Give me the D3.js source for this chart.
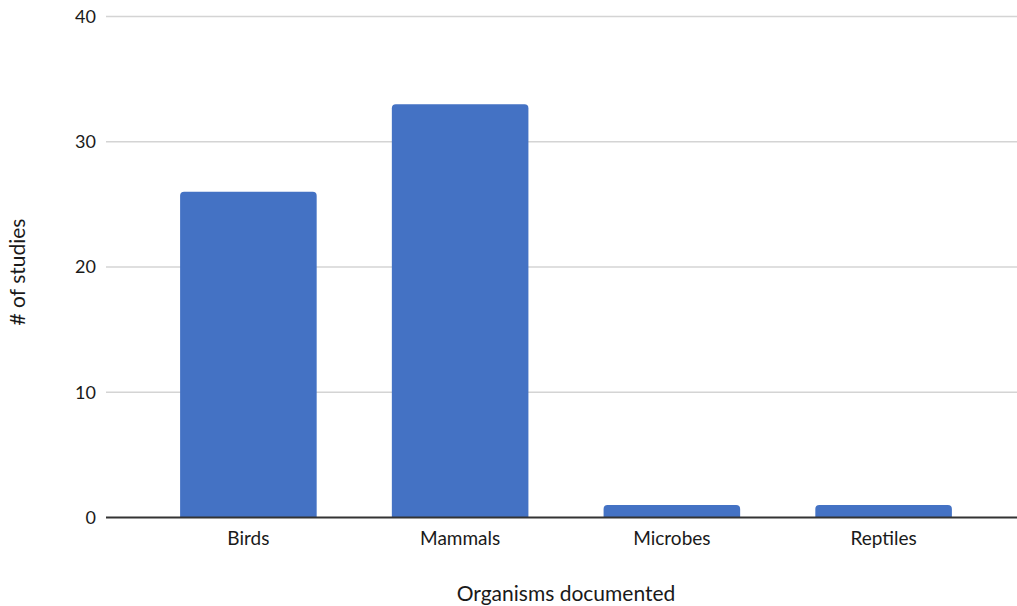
<!DOCTYPE html>
<html>
<head>
<meta charset="utf-8">
<script src="https://cdn.jsdelivr.net/npm/d3@7"></script>
<style>
  html, body { margin: 0; padding: 0; background: #fff; }
  svg { display: block; font-family: Lato, "Open Sans", sans-serif; }
</style>
</head>
<body>
<svg id="chart" width="1017" height="606"></svg>
<script>
const categories = ["Birds", "Mammals", "Microbes", "Reptiles"];
const studies = [26, 33, 1, 1];
const yTicks = [0, 10, 20, 30, 40];
const xTitle = "Organisms documented";
const yTitle = "# of studies";

(function () {
const svg = d3.select("#chart");
const W = 1017, H = 606;
const plotLeft = 106, plotTop = 16.5, plotBottom = 517.5;

const x = d3.scaleBand().domain(categories).range([plotLeft, 1026]).paddingInner(0.355).paddingOuter(0.35);
const y = d3.scaleLinear().domain([0, 40]).range([plotBottom, plotTop]);

// gridlines
svg.append("g").selectAll("line").data(yTicks.filter(d => d !== 0)).join("line")
  .attr("x1", plotLeft).attr("x2", W)
  .attr("y1", d => y(d)).attr("y2", d => y(d))
  .attr("stroke", "#d4d4d4").attr("stroke-width", 1.5);

// y tick labels
const yAxis = d3.axisLeft(y).tickValues(yTicks).tickSize(0).tickPadding(10);
const gy = svg.append("g").attr("transform", `translate(${plotLeft},0)`).call(yAxis);
gy.select(".domain").remove();
gy.selectAll("text").attr("font-size", 18).attr("fill", "#1a1a1a").attr("font-family", "Lato, sans-serif");

// bars with rounded tops
const r = 4;
svg.append("g").selectAll("path").data(categories).join("path")
  .attr("fill", "#4472C4")
  .attr("d", (c, i) => {
    const x0 = x(c), w = x.bandwidth(), y0 = y(studies[i]), yb = y(0);
    return `M${x0},${yb} V${y0 + r} Q${x0},${y0} ${x0 + r},${y0} H${x0 + w - r} Q${x0 + w},${y0} ${x0 + w},${y0 + r} V${yb} Z`;
  });

// baseline
svg.append("line").attr("x1", plotLeft).attr("x2", W)
  .attr("y1", y(0)).attr("y2", y(0))
  .attr("stroke", "#333").attr("stroke-width", 2);

// x labels
const xAxis = d3.axisBottom(x).tickSize(0).tickPadding(14);
const gx = svg.append("g").attr("transform", `translate(0,${plotBottom})`).call(xAxis);
gx.select(".domain").remove();
gx.selectAll("text").attr("font-size", 19).attr("fill", "#1a1a1a").attr("font-family", "Lato, sans-serif");

// axis titles
svg.append("text").attr("x", 566).attr("y", 601).attr("text-anchor", "middle")
  .attr("font-size", 21).attr("fill", "#1a1a1a").text(xTitle);
svg.append("text").attr("transform", "translate(25,272) rotate(-90)").attr("text-anchor", "middle")
  .attr("font-size", 21).attr("fill", "#1a1a1a").text(yTitle);
})();
</script>
</body>
</html>
